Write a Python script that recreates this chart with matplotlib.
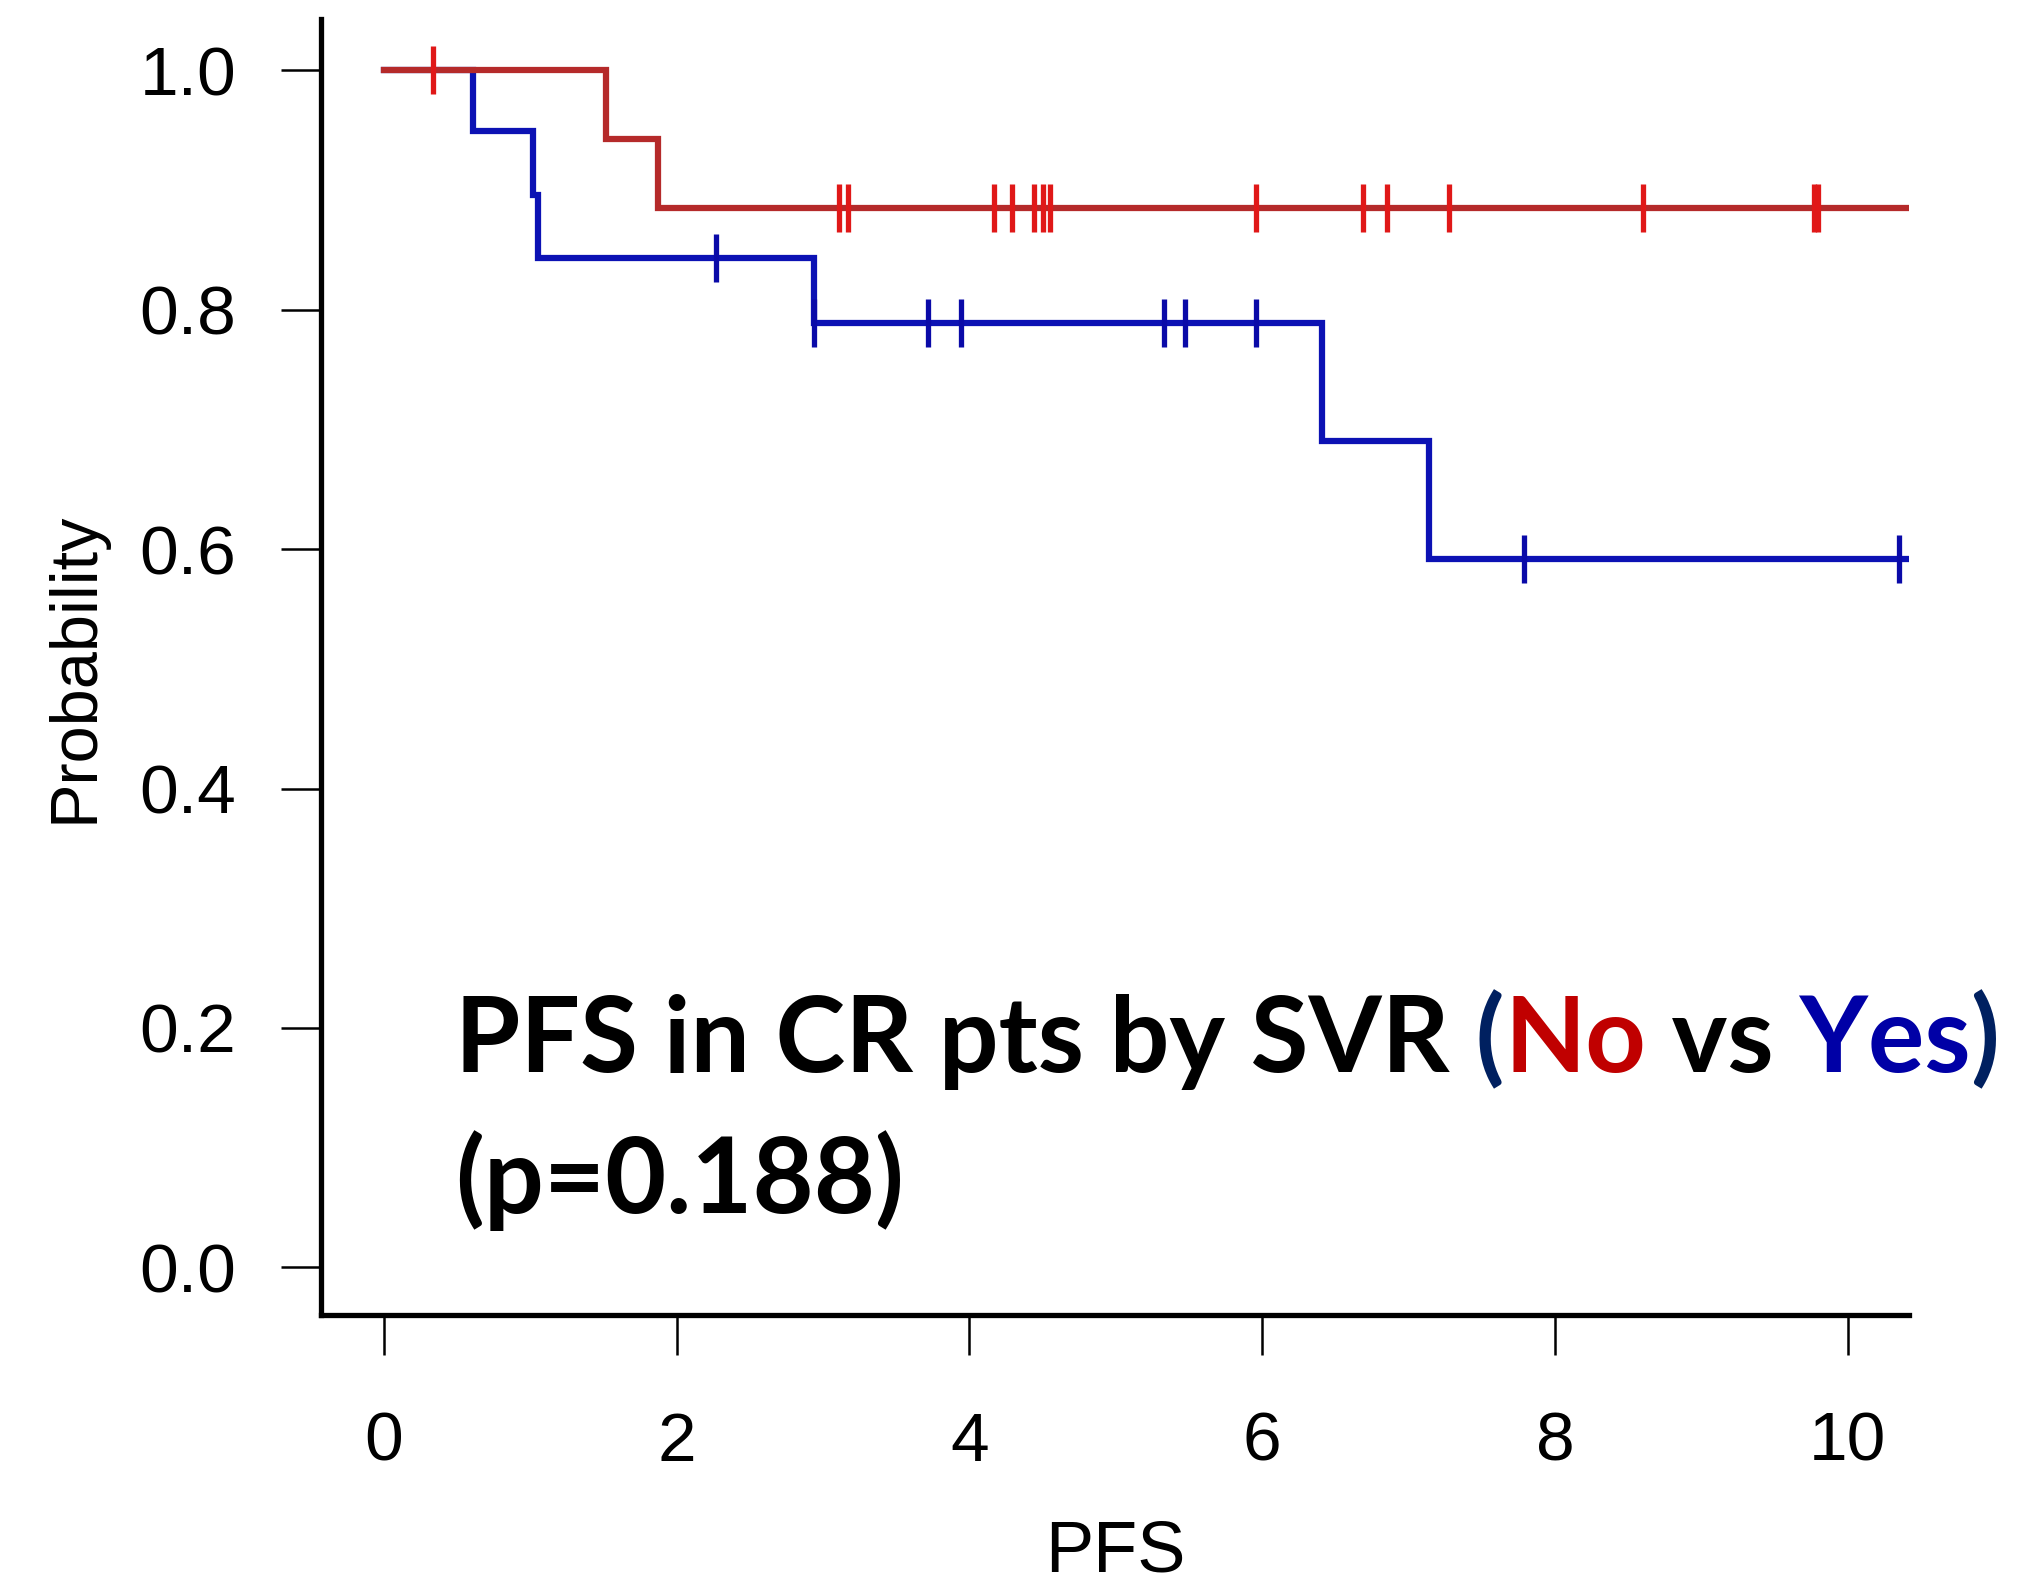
import numpy as np
import matplotlib
matplotlib.use("Agg")
import matplotlib.pyplot as plt

# Kaplan-Meier steps
no_event_t = [1.52, 1.87]
no_event_s = [0.943, 0.885]
no_censor_t = [0.335, 3.11, 3.17, 4.17, 4.29, 4.44, 4.50, 4.55, 5.96,
               6.69, 6.85, 7.28, 8.60, 9.77, 9.80]

yes_event_t = [0.61, 1.02, 1.05, 2.94, 6.41, 7.14]
yes_event_s = [0.949, 0.896, 0.843, 0.789, 0.690, 0.592]
yes_censor_t = [2.27, 2.94, 3.72, 3.94, 5.33, 5.47, 5.96, 7.79, 10.35]

t_end = 10.42
xticks = [0, 2, 4, 6, 8, 10]
yticks = [0.0, 0.2, 0.4, 0.6, 0.8, 1.0]

plt.rcParams["font.family"] = ["Liberation Sans", "DejaVu Sans"]

fig = plt.figure(figsize=(20.27, 15.95), dpi=100)
ax = fig.add_axes([0.1584, 0.1755, 0.9418 - 0.1584, 0.9881 - 0.1755])


def km_curve(ev_t, ev_s, cens_t, line_col, mark_col):
    t = np.r_[0.0, ev_t, t_end]
    s = np.r_[1.0, ev_s, ev_s[-1]]
    ax.step(t, s, where="post", color=line_col, lw=4.5, solid_joinstyle="miter")
    idx = np.searchsorted(t, cens_t, side="right") - 1
    ax.plot(cens_t, s[idx], ls="none", marker="|", ms=35, mew=3.8, color=mark_col)


km_curve(yes_event_t, yes_event_s, yes_censor_t, "#0c12b4", "#0a0aa8")
km_curve(no_event_t, no_event_s, no_censor_t, "#b52a2a", "#e01818")

ax.set_xlim(-0.43, 10.42)
ax.set_ylim(-0.04, 1.043)
ax.set_xticks(xticks)
ax.set_yticks(yticks)
ax.set_yticklabels([f"{v:.1f}" for v in yticks])
for side in ["top", "right"]:
    ax.spines[side].set_visible(False)
for side in ["left", "bottom"]:
    ax.spines[side].set_linewidth(3.8)
ax.tick_params(axis="both", direction="out", length=29, width=1.8, labelsize=50)
ax.tick_params(axis="y", pad=32)
ax.tick_params(axis="x", pad=40)
ax.set_xlabel("PFS", fontsize=52, labelpad=32)
ax.set_ylabel("Probability", fontsize=48, labelpad=24)

# multi-coloured annotation
fig.canvas.draw()
r = fig.canvas.get_renderer()
pieces = [("PFS in CR pts by SVR", "black"), (" (", "#002060"), ("No", "#c00000"),
          (" vs", "black"), (" Yes", "#0000a6"), (")", "#002060")]
x = 0.2245
for s, c in pieces:
    t = fig.text(x, 0.3279, s, color=c, fontsize=76, fontweight="bold",
                 family=["Lato", "DejaVu Sans"], va="baseline", ha="left")
    x = t.get_window_extent(r).x1 / fig.bbox.width
fig.text(0.2245, 0.2395, "(p=0.188)", color="black", fontsize=76, fontweight="bold",
         family=["Lato", "DejaVu Sans"], va="baseline", ha="left")

fig.savefig("out.png", dpi=100)
